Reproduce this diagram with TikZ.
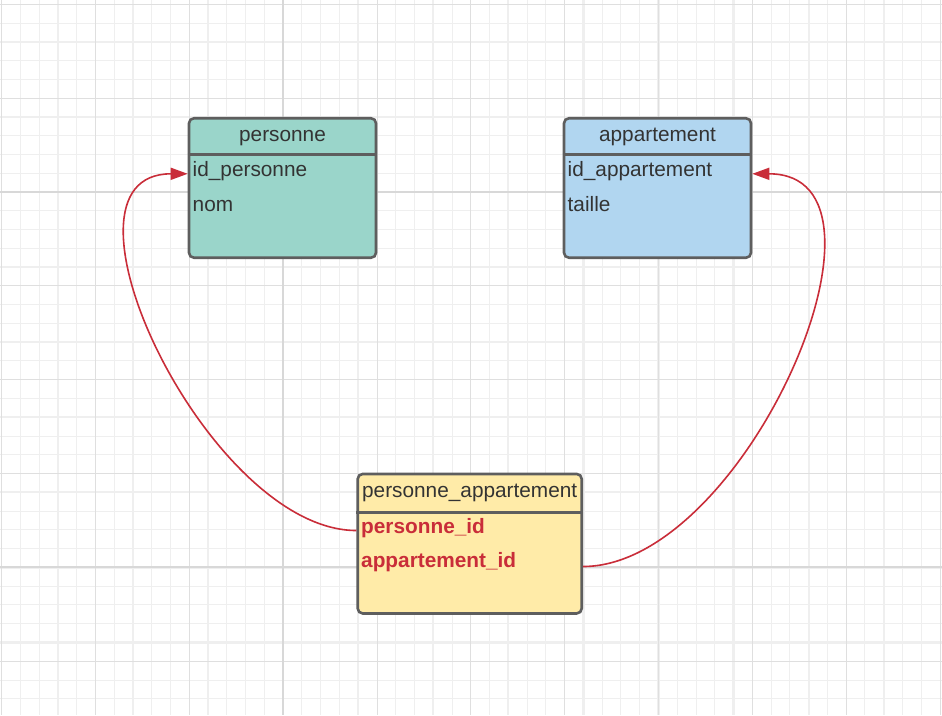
\documentclass[tikz,border=0pt]{standalone}
\usepackage{fontspec}
\setmainfont{Liberation Sans}
\usetikzlibrary{arrows.meta}
\definecolor{gridminor}{HTML}{EFEFEF}
\definecolor{griddark}{HTML}{DFDFDF}
\definecolor{gridmajor}{HTML}{D8D8D8}
\definecolor{boxline}{HTML}{5E5E5E}
\definecolor{tealfill}{HTML}{9AD5CA}
\definecolor{bluefill}{HTML}{B1D6F0}
\definecolor{yellowfill}{HTML}{FFEBA8}
\definecolor{fkred}{HTML}{C92D39}
\definecolor{txt}{HTML}{333333}
\begin{document}
\begin{tikzpicture}[x=1pt,y=-1pt,
  gminor/.style={draw=gridminor, line width=1pt},
  gthick/.style={draw=gridminor, line width=2.2pt},
  gdark/.style={draw=griddark, line width=1pt},
  gmajor/.style={draw=gridmajor, line width=2pt},
  entity/.style={draw=boxline, line width=2.6pt, rounded corners=5pt, inner sep=0pt, minimum height=139.5pt},
  divider/.style={draw=boxline, line width=2.6pt},
  title/.style={anchor=base, inner sep=0pt, text=txt, font=\fontsize{20.8}{24}\selectfont},
  field/.style={anchor=base west, inner sep=0pt, text=txt, font=\fontsize{20.8}{24}\selectfont},
  fkfield/.style={anchor=base west, inner sep=0pt, text=fkred, font=\fontsize{20.8}{24}\selectfont\bfseries},
  link/.style={draw=fkred, line width=1.6pt, -{Triangle[length=17pt,width=12pt]}}
]
\useasboundingbox (0,0) rectangle (942,715);
\fill[white] (0,0) rectangle (942,715);
% grid
\foreach \k in {0,...,50} \draw[gminor] (1.7+18.766*\k,0) -- (1.7+18.766*\k,715);
\foreach \k in {0,...,37} \draw[gminor] (0,4.3+18.77*\k) -- (942,4.3+18.77*\k);
\foreach \k in {3,7,...,47} \draw[gthick] (1.7+18.766*\k,0) -- (1.7+18.766*\k,715);
\foreach \k in {2,6,...,34} \draw[gthick] (0,4.3+18.77*\k) -- (942,4.3+18.77*\k);
\foreach \k in {0,5,...,50} \draw[gdark] (1.7+18.766*\k,0) -- (1.7+18.766*\k,715);
\foreach \k in {0,5,...,35} \draw[gdark] (0,4.3+18.77*\k) -- (942,4.3+18.77*\k);
\draw[gmajor] (1.7+18.766*15,0) -- (1.7+18.766*15,715);
\foreach \k in {10,30} \draw[gmajor] (0,4.3+18.77*\k) -- (942,4.3+18.77*\k);

% entities
\node[entity, fill=tealfill, minimum width=187pt] (personne) at (282.5,188) {};
\node[entity, fill=bluefill, minimum width=187pt] (appart) at (657.5,188) {};
\node[entity, fill=yellowfill, minimum width=224pt] (pa) at (469.7,543.7) {};

\draw[divider] ([yshift=-37.7pt]personne.north west) -- ([yshift=-37.7pt]personne.north east);
\draw[divider] ([yshift=-37.7pt]appart.north west) -- ([yshift=-37.7pt]appart.north east);
\draw[divider] ([yshift=-39.6pt]pa.north west) -- ([yshift=-39.6pt]pa.north east);

\node[title] (personne-t) at ([yshift=-24.5pt]personne.north) {personne};
\node[field] (personne-r1) at ([xshift=4.8pt,yshift=-59.5pt]personne.north west) {id\_personne};
\node[field] (personne-r2) at ([xshift=4.8pt,yshift=-94.5pt]personne.north west) {nom};

\node[title] (appart-t) at ([yshift=-24.5pt]appart.north) {appartement};
\node[field] (appart-r1) at ([xshift=4.8pt,yshift=-59.5pt]appart.north west) {id\_appartement};
\node[field] (appart-r2) at ([xshift=4.8pt,yshift=-94.5pt]appart.north west) {taille};

\node[title] (pa-t) at ([yshift=-24.6pt]pa.north) {personne\_appartement};
\node[fkfield] (pa-r1) at ([xshift=4.6pt,yshift=-60.5pt]pa.north west) {personne\_id};
\node[fkfield] (pa-r2) at ([xshift=4.6pt,yshift=-94.5pt]pa.north west) {appartement\_id};

% connectors
\draw[link] (pa.west |- pa-r1.mid) .. controls +(-149,0) and +(-149,0) .. (personne.west |- personne-r1.mid);
\draw[link] ([yshift=-2pt]pa.east |- pa-r2.mid) .. controls +(163,0) and +(163,0) .. (appart.east |- appart-r1.mid);
\end{tikzpicture}
\end{document}
